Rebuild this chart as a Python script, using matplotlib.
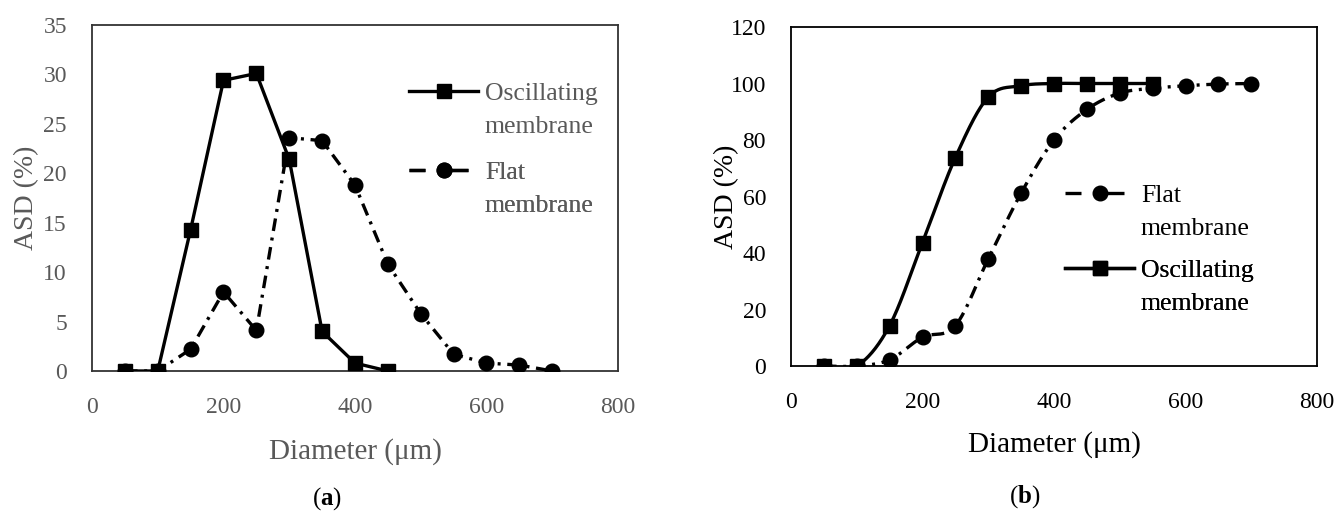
import numpy as np
import matplotlib
matplotlib.use("Agg")
import matplotlib.pyplot as plt
from matplotlib.lines import Line2D

# ---------------- data ----------------
diam_osc = [50, 100, 150, 200, 250, 300, 350, 400, 450]
asd_osc = [0, 0, 14.3, 29.4, 30.1, 21.4, 4.0, 0.8, 0]

diam_flat = [50, 100, 150, 200, 250, 300, 350, 400, 450, 500, 550, 600, 650, 700]
asd_flat = [0, 0, 2.2, 8.0, 4.1, 23.6, 23.3, 18.8, 10.8, 5.8, 1.7, 0.8, 0.6, 0]

cum_diam_osc = [50, 100, 150, 200, 250, 300, 350, 400, 450, 500, 550]
cum_osc = [0, 0, 14.3, 43.7, 73.8, 95.2, 99.2, 100, 100, 100, 100]

cum_diam_flat = [50, 100, 150, 200, 250, 300, 350, 400, 450, 500, 550, 600, 650, 700]
cum_flat = [0, 0, 2.2, 10.2, 14.3, 37.9, 61.2, 80.0, 90.8, 96.6, 98.3, 99.2, 99.8, 100]

xticks = [0, 200, 400, 600, 800]
yticks_a = [0, 5, 10, 15, 20, 25, 30, 35]
yticks_b = [0, 20, 40, 60, 80, 100, 120]

FONT = "Liberation Serif"
plt.rcParams["mathtext.fontset"] = "custom"
plt.rcParams["mathtext.rm"] = FONT
plt.rcParams["mathtext.bf"] = FONT + ":bold"

GREY = "#595959"
LW = 2.4
MS_SQ = 10.5
MS_CI = 10.5
DASHDOT = (0, (3.8, 2.0, 0.9, 2.0))
LEG_DASH = (0, (4.8, 3.6, 9.3, 30))


def smooth(x, y, n=40):
    """Excel-like smoothed line (Catmull-Rom Bezier) through the data points."""
    p = np.column_stack([np.asarray(x, float), np.asarray(y, float)])
    out = []
    m = len(p)
    t = np.linspace(0, 1, n)[:, None]
    for i in range(m - 1):
        p0 = p[i - 1] if i > 0 else p[i]
        p1 = p[i]
        p2 = p[i + 1]
        p3 = p[i + 2] if i + 2 < m else p[i + 1]
        c1 = p1 + (p2 - p0) / 6.0
        c2 = p2 - (p3 - p1) / 6.0
        seg = ((1 - t) ** 3) * p1 + 3 * ((1 - t) ** 2) * t * c1 + 3 * (1 - t) * t ** 2 * c2 + t ** 3 * p2
        out.append(seg if i == 0 else seg[1:])
    s = np.vstack(out)
    return s[:, 0], s[:, 1]


fig = plt.figure(figsize=(13.34, 5.11), dpi=100)
W, H = 1334, 511


def axes_px(l, r, t, b):
    return fig.add_axes([l / W, 1 - b / H, (r - l) / W, (b - t) / H])


axA = axes_px(92, 618, 25, 371)
axB = axes_px(791, 1317, 27, 366)


def style_axes(ax, yticks, ymax, color, spine_color):
    ax.set_xlim(0, 800)
    ax.set_ylim(0, ymax)
    ax.set_xticks(xticks)
    ax.set_yticks(yticks)
    ax.tick_params(axis="both", length=0, labelsize=17, labelcolor=color)
    ax.tick_params(axis="x", pad=19)
    ax.tick_params(axis="y", pad=18)
    for lab in ax.get_xticklabels() + ax.get_yticklabels():
        lab.set_fontfamily(FONT)
    for s in ax.spines.values():
        s.set_color(spine_color)
        s.set_linewidth(1.3)
    ax.set_xlabel("Diameter (μm)", fontsize=21, family=FONT, color=color)
    ax.set_ylabel("ASD (%)", fontsize=20, family=FONT, color=color)
    ax.xaxis.label.set_va("center")
    ax.yaxis.label.set_va("center")
    ax.yaxis.label.set_ha("center")


def add_group_legend(ax, handle, label, xpx, ypx, color):
    blank = Line2D([], [], linestyle="none", marker=None)
    leg = ax.legend([handle, blank], [label, "membrane"], loc="center left",
                    bbox_to_anchor=(xpx / W, 1 - ypx / H), bbox_transform=fig.transFigure,
                    frameon=False, borderpad=0, borderaxespad=0, handlelength=2.7,
                    handletextpad=0.25, labelspacing=0.42,
                    prop={"family": FONT, "size": 18.5}, labelcolor=color)
    ax.add_artist(leg)
    return leg


# ---------------- panel (a) ----------------
style_axes(axA, yticks_a, 35, GREY, "#333333")
axA.xaxis.set_label_coords(0.5, -0.233)
axA.yaxis.set_label_coords(-0.124, 0.5)

axA.plot(diam_osc, asd_osc, color="black", lw=LW, marker="s", ms=MS_SQ,
         solid_joinstyle="miter", zorder=3)
axA.plot(diam_flat, asd_flat, color="black", lw=LW, linestyle=DASHDOT,
         marker="o", ms=MS_CI, zorder=3)

h_osc = Line2D([], [], color="black", lw=LW, marker="s", ms=MS_SQ)
h_flat = Line2D([], [], color="black", lw=LW, linestyle=LEG_DASH, marker="o", ms=MS_CI)
add_group_legend(axA, h_osc, "Oscillating", 409, 110, GREY)
add_group_legend(axA, h_flat, "Flat", 409, 189, GREY)

# ---------------- panel (b) ----------------
style_axes(axB, yticks_b, 120, "black", "black")
axB.xaxis.set_label_coords(0.5, -0.233)
axB.yaxis.set_label_coords(-0.122, 0.5)

sx, sy = smooth(cum_diam_flat, cum_flat)
axB.plot(sx, sy, color="black", lw=LW, linestyle=DASHDOT, zorder=2)
axB.plot(cum_diam_flat, cum_flat, linestyle="none", color="black", marker="o", ms=MS_CI, zorder=3)
sx, sy = smooth(cum_diam_osc, cum_osc)
axB.plot(sx, sy, color="black", lw=LW, zorder=4)
axB.plot(cum_diam_osc, cum_osc, linestyle="none", color="black", marker="s", ms=MS_SQ, zorder=5)

add_group_legend(axB, h_flat, "Flat", 1065, 212, "black")
add_group_legend(axB, h_osc, "Oscillating", 1065, 287, "black")

# captions
fig.text(327 / W, 1 - 499 / H, "($\\mathbf{a}$)", ha="center", va="center", fontsize=18, family=FONT)
fig.text(1025 / W, 1 - 497 / H, "($\\mathbf{b}$)", ha="center", va="center", fontsize=18, family=FONT)

fig.savefig("out.png", dpi=100)
